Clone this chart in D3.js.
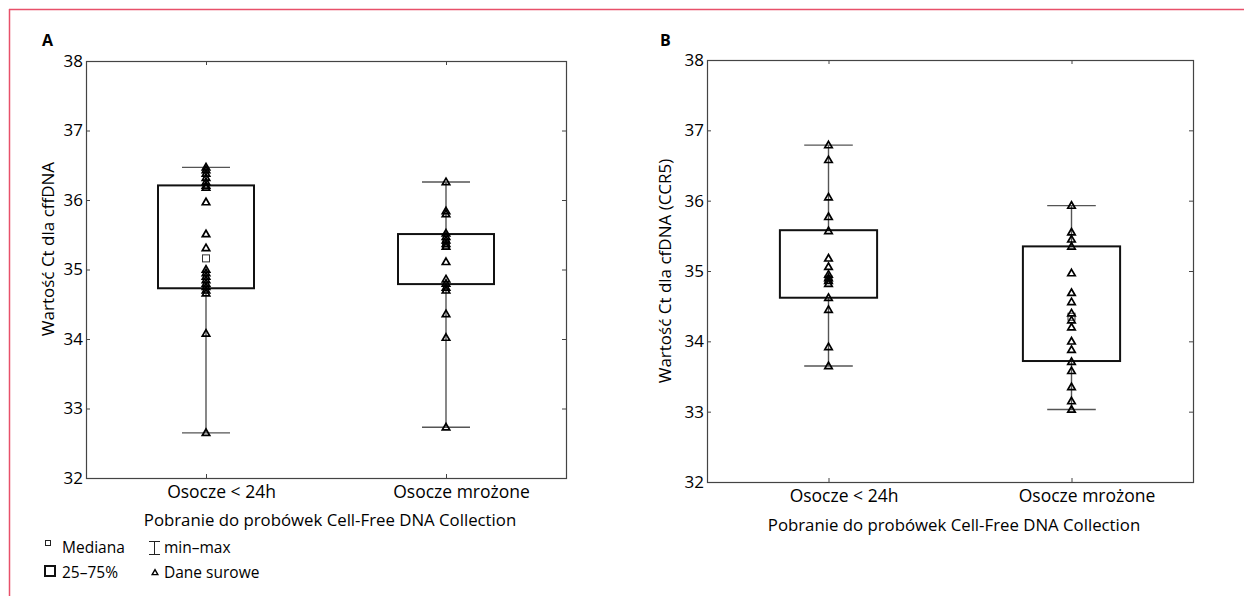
<!DOCTYPE html>
<html>
<head>
<meta charset="utf-8">
<script src="https://cdn.jsdelivr.net/npm/d3@7"></script>
<style>
  body { margin: 0; background: #fff; }
  svg { font-family: "Open Sans", "Noto Sans", sans-serif; }
</style>
</head>
<body>
<div id="chart"></div>
<script>
const width = 1244;
const height = 596;

const categories = ["Osocze < 24h", "Osocze mrożone"];
const yTicks = [32, 33, 34, 35, 36, 37, 38];

// panel A: cffDNA
const aMin = [32.65, 32.73];
const aQ1 = [34.73, 34.79];
const aMedian = [35.16, 35.36];
const aQ3 = [36.21, 35.51];
const aMax = [36.47, 36.26];
const aRaw1 = [36.47, 36.43, 36.38, 36.32, 36.26, 36.21, 36.18, 35.97, 35.51, 35.31, 35.0, 34.95, 34.9, 34.85, 34.8, 34.75, 34.7, 34.66, 34.08, 32.65];
const aRaw2 = [36.26, 35.84, 35.8, 35.52, 35.47, 35.42, 35.37, 35.33, 35.11, 34.86, 34.8, 34.74, 34.7, 34.36, 34.02, 32.73];

// panel B: cfDNA (CCR5)
const bMin = [33.65, 33.03];
const bQ1 = [34.62, 33.72];
const bMedian = [34.88, 34.35];
const bQ3 = [35.58, 35.35];
const bMax = [36.79, 35.93];
const bRaw1 = [36.79, 36.58, 36.05, 35.77, 35.57, 35.18, 35.06, 34.95, 34.9, 34.86, 34.82, 34.62, 34.45, 33.92, 33.65];
const bRaw2 = [35.93, 35.55, 35.45, 35.35, 34.97, 34.69, 34.56, 34.4, 34.3, 34.2, 34.0, 33.88, 33.71, 33.58, 33.35, 33.15, 33.03];

const svg = d3
  .select("#chart")
  .append("svg")
  .attr("width", width)
  .attr("height", height);

// red frame of the figure
svg.append("line")
  .attr("x1", 9).attr("x2", width).attr("y1", 9.5).attr("y2", 9.5)
  .attr("stroke", "#e8506a").attr("stroke-width", 1.5);
svg.append("line")
  .attr("x1", 9.5).attr("x2", 9.5).attr("y1", 9).attr("y2", height)
  .attr("stroke", "#e8506a").attr("stroke-width", 1.5);

const triangle = d3.symbol().type(d3.symbolTriangle).size(24);

function drawPanel(p) {
  const x = d3.scalePoint().domain(categories).range([p.left, p.right]).padding(0.5);
  const y = d3.scaleLinear().domain([32, 38]).range([p.bottom, p.top]);
  const step = x.step();
  const g = svg.append("g");

  const stats = categories.map((c, i) => ({
    cat: c, min: p.min[i], q1: p.q1[i], med: p.median[i], q3: p.q3[i], max: p.max[i], raw: p.raw[i]
  }));

  // frame
  g.append("rect")
    .attr("x", p.left + 0.5).attr("y", p.top + 0.5)
    .attr("width", p.right - p.left).attr("height", p.bottom - p.top)
    .attr("fill", "none").attr("stroke", "#444").attr("stroke-width", 1.2);

  // left axis, inward ticks
  const yl = g.append("g")
    .attr("transform", `translate(${p.left},0)`)
    .call(d3.axisLeft(y).tickValues(yTicks).tickFormat(d3.format("d")).tickSize(-4).tickPadding(3));
  yl.select(".domain").remove();
  yl.selectAll("text").attr("font-size", 17).attr("fill", "#000").attr("font-family", "Open Sans");
  yl.selectAll("line").attr("stroke", "#444");

  const yr = g.append("g")
    .attr("transform", `translate(${p.right},0)`)
    .call(d3.axisRight(y).tickValues(yTicks).tickSize(-4).tickFormat(""));
  yr.select(".domain").remove();
  yr.selectAll("line").attr("stroke", "#444");

  // category labels sit a little right of their ticks in the original
  const xb = g.append("g")
    .attr("transform", `translate(0,${p.bottom})`)
    .call(d3.axisBottom(x).tickSize(-4).tickPadding(8));
  xb.select(".domain").remove();
  xb.selectAll("text").attr("font-size", 17.5).attr("fill", "#000")
    .attr("font-family", "Open Sans").attr("dx", 15);
  xb.selectAll("line").attr("stroke", "#444");

  const xt = g.append("g")
    .attr("transform", `translate(0,${p.top})`)
    .call(d3.axisTop(x).tickSize(-4).tickFormat(""));
  xt.select(".domain").remove();
  xt.selectAll("line").attr("stroke", "#444");

  // whiskers
  const bw = step * 0.4;
  const cw = step * 0.2;
  const wg = g.append("g").attr("stroke", "#555").attr("stroke-width", 1.4);
  wg.selectAll(".wlo").data(stats).enter().append("line")
    .attr("x1", (d) => x(d.cat)).attr("x2", (d) => x(d.cat))
    .attr("y1", (d) => y(d.min)).attr("y2", (d) => y(d.q1));
  wg.selectAll(".whi").data(stats).enter().append("line")
    .attr("x1", (d) => x(d.cat)).attr("x2", (d) => x(d.cat))
    .attr("y1", (d) => y(d.q3)).attr("y2", (d) => y(d.max));
  wg.selectAll(".cmin").data(stats).enter().append("line")
    .attr("x1", (d) => x(d.cat) - cw / 2).attr("x2", (d) => x(d.cat) + cw / 2)
    .attr("y1", (d) => y(d.min)).attr("y2", (d) => y(d.min));
  wg.selectAll(".cmax").data(stats).enter().append("line")
    .attr("x1", (d) => x(d.cat) - cw / 2).attr("x2", (d) => x(d.cat) + cw / 2)
    .attr("y1", (d) => y(d.max)).attr("y2", (d) => y(d.max));

  // boxes
  g.selectAll(".box").data(stats).enter().append("rect")
    .attr("x", (d) => x(d.cat) - bw / 2)
    .attr("y", (d) => y(d.q3))
    .attr("width", bw)
    .attr("height", (d) => y(d.q1) - y(d.q3))
    .attr("fill", "#fff").attr("stroke", "#111").attr("stroke-width", 2);

  // median
  g.selectAll(".med").data(stats).enter().append("rect")
    .attr("x", (d) => x(d.cat) - 3.5)
    .attr("y", (d) => y(d.med) - 3.5)
    .attr("width", 7).attr("height", 7)
    .attr("fill", "#fff").attr("stroke", "#333").attr("stroke-width", 1);

  // raw points
  stats.forEach((s) => {
    g.selectAll(null).data(s.raw).enter().append("path")
      .attr("d", triangle)
      .attr("transform", (v) => `translate(${x(s.cat)},${y(v) + 0.5})`)
      .attr("fill", "none").attr("stroke", "#000").attr("stroke-width", 1.7);
  });

  // labels
  g.append("text")
    .attr("x", p.letterX).attr("y", 46)
    .attr("font-size", 16).attr("font-weight", "bold")
    .text(p.letter);

  g.append("text")
    .attr("transform", `translate(${p.yTitleX},${p.yTitleY}) rotate(-90)`)
    .attr("text-anchor", "middle").attr("font-size", 17)
    .text(p.yTitle);

  g.append("text")
    .attr("x", (p.left + p.right) / 2 + 4).attr("y", p.titleY)
    .attr("text-anchor", "middle").attr("font-size", 16.8)
    .text("Pobranie do probówek Cell-Free DNA Collection");
}

drawPanel({
  left: 86, right: 566, top: 61, bottom: 478,
  min: aMin, q1: aQ1, median: aMedian, q3: aQ3, max: aMax, raw: [aRaw1, aRaw2],
  letter: "A", letterX: 42, yTitle: "Wartość Ct dla cffDNA", yTitleX: 54, yTitleY: 249,
  titleY: 526
});

drawPanel({
  left: 707, right: 1193, top: 60, bottom: 482,
  min: bMin, q1: bQ1, median: bMedian, q3: bQ3, max: bMax, raw: [bRaw1, bRaw2],
  letter: "B", letterX: 660, yTitle: "Wartość Ct dla cfDNA (CCR5)", yTitleX: 671, yTitleY: 271,
  titleY: 531
});

// legend
const legend = svg.append("g").attr("font-size", 15.5);
legend.append("rect").attr("x", 45.5).attr("y", 540.5).attr("width", 5).attr("height", 5)
  .attr("fill", "#fff").attr("stroke", "#222").attr("stroke-width", 1);
legend.append("text").attr("x", 62).attr("y", 553).text("Mediana");
legend.append("rect").attr("x", 45).attr("y", 566).attr("width", 10).attr("height", 10)
  .attr("fill", "none").attr("stroke", "#111").attr("stroke-width", 2);
legend.append("text").attr("x", 62).attr("y", 578).text("25–75%");
const ib = legend.append("g").attr("stroke", "#222").attr("stroke-width", 1);
ib.append("line").attr("x1", 149).attr("x2", 160).attr("y1", 541.5).attr("y2", 541.5);
ib.append("line").attr("x1", 149).attr("x2", 160).attr("y1", 554.5).attr("y2", 554.5);
ib.append("line").attr("x1", 154.5).attr("x2", 154.5).attr("y1", 541.5).attr("y2", 554.5);
legend.append("text").attr("x", 164).attr("y", 553).text("min–max");
legend.append("path").attr("d", d3.symbol().type(d3.symbolTriangle).size(14))
  .attr("transform", "translate(155,573)")
  .attr("fill", "none").attr("stroke", "#000").attr("stroke-width", 1.4);
legend.append("text").attr("x", 164).attr("y", 578).text("Dane surowe");
</script>
</body>
</html>
